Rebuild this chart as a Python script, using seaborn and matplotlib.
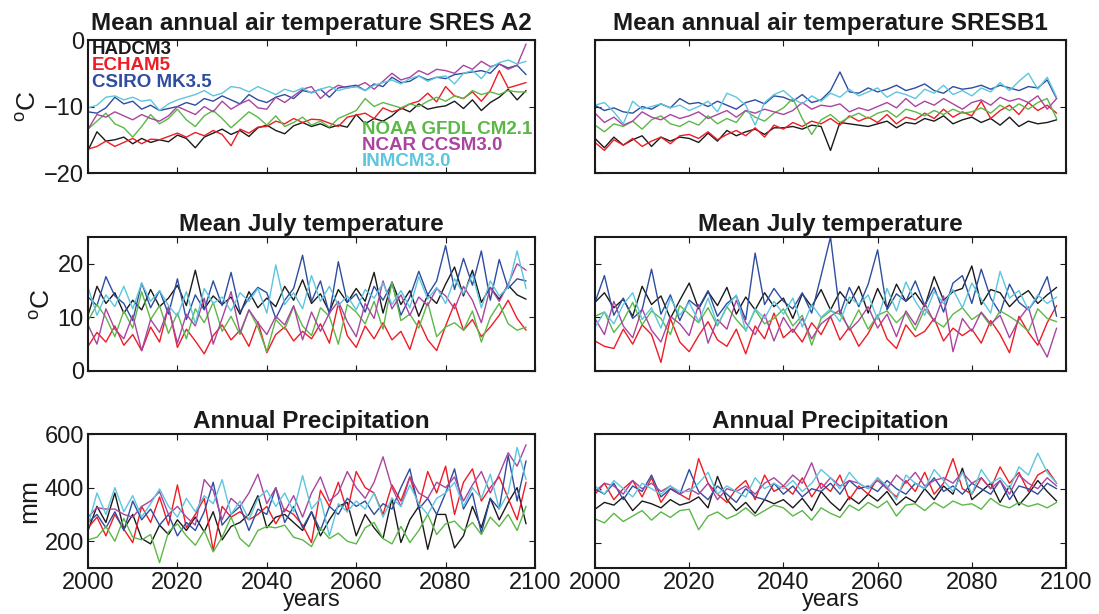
import matplotlib
matplotlib.use("Agg")
import pandas as pd
import matplotlib.pyplot as plt
import seaborn as sns

years = list(range(2000, 2100, 2))
models = ["HADCM3", "ECHAM5", "CSIRO MK3.5", "NOAA GFDL CM2.1", "NCAR CCSM3.0", "INMCM3.0"]
model_colors = ["#1a1a1a", "#ee1c24", "#2e4da0", "#5bb846", "#a9449f", "#5cc6de"]

# mean annual air temperature, SRES A2 (degC)
a2_annual_hadcm3 = [-16.6, -13.8, -15.2, -15.0, -14.6, -15.6, -14.8, -15.4, -15.0, -15.3,
                    -14.3, -14.8, -16.2, -14.6, -14.0, -13.4, -14.2, -13.6, -14.5, -13.2,
                    -12.8, -13.6, -14.1, -12.9, -12.4, -13.0, -12.6, -13.2, -12.8, -13.1,
                    -11.2, -12.6, -11.8, -12.2, -11.4, -10.2, -10.8, -9.6, -10.4, -10.1,
                    -9.9, -9.2, -10.3, -9.0, -10.6, -9.4, -8.6, -7.4, -9.0, -7.6]
a2_annual_echam5 = [-16.4, -16.0, -15.2, -16.0, -15.4, -14.8, -15.6, -14.9, -15.0, -14.5,
                    -14.0, -14.6, -13.9, -14.4, -13.6, -14.2, -15.9, -13.4, -14.0, -13.1,
                    -13.0, -12.2, -12.6, -11.8, -12.4, -11.9, -12.0, -12.5, -13.0, -11.6,
                    -11.3, -11.0, -11.8, -10.2, -10.8, -10.4, -9.6, -9.2, -8.0, -9.3,
                    -7.0, -8.4, -8.8, -7.8, -9.2, -7.6, -4.6, -7.2, -6.8, -6.4]
a2_annual_csiro = [-10.8, -11.0, -10.2, -8.6, -9.6, -9.2, -10.4, -9.8, -10.6, -10.3,
                   -10.0, -9.4, -9.8, -8.8, -9.2, -8.4, -9.0, -9.6, -8.2, -9.0,
                   -9.4, -8.6, -8.2, -8.8, -7.6, -7.9, -7.4, -8.6, -7.2, -7.0,
                   -6.8, -7.6, -6.6, -7.0, -5.6, -6.4, -6.2, -5.4, -6.0, -5.6,
                   -5.8, -5.2, -5.0, -4.8, -4.6, -5.0, -3.6, -4.2, -3.8, -5.2]
a2_annual_noaa = [-13.4, -12.2, -11.0, -12.6, -13.2, -14.6, -13.0, -11.2, -12.6, -11.8,
                  -10.4, -12.0, -13.0, -11.4, -10.6, -11.8, -13.2, -12.0, -10.8, -11.6,
                  -12.8, -11.4, -13.0, -12.4, -11.6, -12.8, -12.2, -13.1, -11.8, -11.2,
                  -10.6, -8.8, -10.0, -9.4, -9.8, -10.2, -9.6, -10.0, -9.2, -8.6,
                  -9.2, -8.4, -8.8, -7.6, -8.2, -7.8, -8.2, -7.6, -7.8, -7.8]
a2_annual_ncar = [-13.4, -11.2, -11.6, -10.8, -11.4, -12.0, -11.2, -11.8, -12.2, -11.4,
                  -10.0, -10.6, -11.2, -10.0, -10.8, -9.2, -10.4, -9.6, -9.0, -10.2,
                  -10.4, -8.6, -9.4, -8.4, -7.4, -7.0, -8.8, -7.6, -6.8, -7.2,
                  -7.0, -6.4, -7.4, -6.2, -5.0, -6.0, -5.6, -4.6, -5.2, -4.4,
                  -4.6, -5.0, -3.8, -4.4, -3.2, -4.0, -3.6, -4.4, -3.8, -0.6]
a2_annual_inmcm = [-10.2, -9.8, -8.6, -8.4, -9.0, -8.6, -9.2, -9.0, -10.6, -9.6,
                   -9.0, -8.6, -8.2, -7.6, -8.4, -8.0, -7.0, -7.2, -7.8, -7.0,
                   -7.6, -8.2, -7.4, -7.8, -7.2, -8.0, -7.4, -7.0, -7.6, -7.2,
                   -7.0, -7.6, -6.8, -6.4, -6.0, -6.6, -5.8, -5.4, -6.2, -5.6,
                   -5.4, -6.6, -5.0, -4.6, -5.8, -4.2, -3.4, -3.0, -3.6, -3.2]

# mean annual air temperature, SRES B1 (degC)
b1_annual_hadcm3 = [-14.8, -16.2, -14.6, -15.8, -15.0, -14.4, -16.0, -14.6, -15.2, -14.6,
                    -14.8, -15.4, -14.0, -15.2, -13.6, -14.4, -13.8, -13.4, -14.2, -13.2,
                    -13.2, -13.0, -13.4, -12.8, -13.0, -16.6, -12.4, -12.6, -12.8, -13.0,
                    -12.6, -12.2, -13.2, -12.4, -12.6, -11.8, -12.2, -11.4, -12.6, -12.0,
                    -11.6, -12.4, -11.8, -12.8, -11.6, -13.0, -12.2, -12.6, -12.4, -12.0]
b1_annual_echam5 = [-15.4, -16.6, -15.0, -15.8, -14.8, -16.0, -15.2, -14.6, -15.6, -14.4,
                    -14.2, -14.8, -13.8, -15.0, -14.2, -13.6, -14.4, -13.2, -14.6, -12.8,
                    -13.4, -12.4, -13.0, -12.2, -12.6, -11.8, -12.8, -11.4, -12.2, -11.6,
                    -12.4, -11.2, -12.6, -11.6, -12.0, -11.0, -11.8, -10.4, -11.6, -10.8,
                    -11.4, -9.2, -11.8, -10.6, -9.8, -11.2, -9.4, -10.6, -9.8, -11.0]
b1_annual_csiro = [-9.8, -10.6, -10.2, -10.8, -11.0, -10.0, -10.4, -9.6, -10.2, -8.8,
                   -9.6, -9.4, -10.0, -9.2, -9.8, -10.4, -9.4, -9.0, -9.6, -8.4,
                   -8.6, -9.2, -8.2, -9.4, -9.0, -7.6, -4.8, -7.8, -8.0, -7.2,
                   -7.8, -7.4, -6.8, -7.6, -7.2, -6.6, -7.6, -8.0, -7.0, -7.4,
                   -7.2, -6.8, -7.4, -6.8, -7.2, -7.6, -7.0, -7.2, -6.0, -8.8]
b1_annual_noaa = [-12.8, -13.8, -12.6, -13.0, -12.2, -13.4, -12.0, -11.4, -12.6, -13.0,
                  -12.2, -12.8, -11.4, -12.6, -11.8, -12.4, -10.6, -11.6, -12.2, -11.0,
                  -10.2, -8.8, -11.8, -14.2, -12.0, -11.2, -12.4, -11.6, -11.0, -11.8,
                  -11.0, -10.6, -11.6, -10.4, -10.8, -11.4, -10.6, -11.2, -10.4, -11.0,
                  -10.8, -10.2, -11.0, -9.8, -10.6, -9.6, -10.4, -9.4, -8.8, -11.8]
b1_annual_ncar = [-11.0, -12.4, -11.6, -12.8, -12.2, -10.8, -11.6, -12.0, -11.2, -11.8,
                  -11.4, -10.8, -11.8, -11.2, -10.6, -11.6, -10.6, -11.0, -10.4, -10.8,
                  -11.2, -10.6, -9.4, -10.4, -9.8, -10.0, -9.6, -10.8, -10.2, -10.6,
                  -10.0, -9.4, -10.2, -8.8, -10.0, -9.2, -9.8, -8.8, -9.6, -10.4,
                  -9.4, -9.0, -9.8, -8.6, -9.2, -8.8, -9.4, -8.4, -10.4, -8.8]
b1_annual_inmcm = [-9.8, -9.4, -10.8, -12.6, -9.2, -10.4, -10.0, -9.6, -10.2, -9.8,
                   -10.6, -10.0, -9.2, -10.8, -8.0, -8.6, -9.8, -12.8, -9.4, -8.2,
                   -7.6, -8.8, -9.6, -8.4, -9.2, -8.0, -8.6, -7.4, -8.4, -7.8,
                   -7.2, -8.6, -7.8, -8.2, -8.8, -7.4, -8.0, -6.8, -8.2, -7.6,
                   -8.4, -7.2, -7.8, -6.4, -7.6, -6.2, -5.0, -7.4, -5.6, -8.6]

# mean July temperature, SRES A2 (degC)
a2_july_hadcm3 = [10.4, 15.8, 12.6, 14.6, 10.8, 13.2, 11.4, 15.2, 12.0, 13.6,
                  16.0, 12.2, 18.8, 11.6, 14.0, 12.4, 13.8, 10.6, 14.8, 11.8,
                  13.6, 12.0, 15.8, 13.2, 17.0, 12.6, 14.4, 11.0, 15.2, 12.8,
                  15.4, 13.0, 18.4, 10.8, 16.6, 12.4, 15.0, 10.2, 14.2, 12.6,
                  16.2, 19.4, 14.0, 18.8, 12.8, 15.6, 13.4, 16.0, 14.2, 13.4]
a2_july_echam5 = [4.6, 7.2, 5.4, 8.4, 4.8, 6.8, 3.8, 8.2, 5.4, 12.0,
                  4.4, 7.8, 5.6, 3.2, 6.6, 8.6, 5.8, 7.6, 4.6, 9.2,
                  3.4, 6.8, 8.2, 5.6, 7.4, 6.0, 8.8, 5.2, 12.6, 6.6,
                  4.4, 8.4, 6.0, 9.0, 5.8, 7.4, 4.0, 9.4, 5.8, 3.8,
                  8.4, 12.6, 7.6, 9.6, 6.4, 8.2, 10.4, 13.2, 9.8, 7.6]
a2_july_csiro = [13.8, 12.2, 17.6, 14.0, 12.6, 9.4, 16.4, 11.8, 15.0, 10.6,
                 17.2, 9.6, 14.2, 11.4, 16.8, 12.2, 18.4, 11.0, 13.6, 15.6,
                 14.6, 9.8, 13.2, 15.4, 21.6, 13.0, 16.8, 10.6, 20.4, 12.8,
                 14.4, 11.0, 15.8, 13.2, 16.4, 10.4, 13.8, 18.6, 14.2, 16.8,
                 23.4, 15.2, 21.0, 16.0, 22.4, 13.2, 20.8, 15.4, 17.2, 16.8]
a2_july_noaa = [9.4, 12.4, 10.0, 6.4, 11.2, 8.0, 14.8, 9.6, 12.2, 7.0,
                10.8, 6.0, 11.6, 9.0, 12.8, 7.4, 10.2, 6.8, 11.4, 8.2,
                3.6, 9.6, 7.8, 12.0, 8.4, 6.6, 11.8, 10.2, 5.0, 12.4,
                11.0, 8.8, 13.0, 7.8, 16.6, 9.4, 10.6, 8.0, 12.8, 6.4,
                8.2, 9.0, 7.6, 11.2, 5.4, 10.0, 12.6, 8.8, 7.6, 8.2]
a2_july_ncar = [8.6, 5.0, 11.6, 7.8, 6.0, 10.4, 3.8, 9.6, 7.2, 11.8,
                5.2, 10.6, 8.4, 13.6, 5.0, 9.8, 14.8, 7.2, 11.4, 9.0,
                6.8, 10.2, 8.6, 12.2, 5.8, 11.0, 7.4, 10.8, 13.0, 9.2,
                6.4, 12.6, 9.8, 16.8, 11.6, 14.2, 10.4, 13.8, 12.2, 15.4,
                14.0, 11.6, 15.8, 13.2, 9.0, 15.6, 13.0, 16.2, 20.0, 18.8]
a2_july_inmcm = [15.6, 10.4, 14.2, 12.0, 15.8, 11.6, 16.4, 13.0, 15.0, 12.2,
                 10.2, 14.8, 8.8, 15.4, 12.6, 13.8, 11.2, 14.6, 13.0, 15.4,
                 10.8, 19.8, 12.4, 14.6, 11.6, 17.8, 13.0, 15.8, 12.2, 14.0,
                 11.4, 15.2, 13.6, 16.4, 12.4, 15.0, 11.8, 17.6, 13.4, 15.6,
                 12.6, 17.2, 14.4, 18.0, 11.8, 16.8, 14.0, 15.6, 22.4, 15.4]

# mean July temperature, SRES B1 (degC)
b1_july_hadcm3 = [12.8, 14.6, 11.8, 13.4, 10.2, 15.8, 12.4, 14.0, 9.8, 13.2,
                  16.4, 11.6, 14.8, 12.2, 15.6, 10.6, 13.8, 11.4, 14.6, 12.0,
                  13.6, 9.8, 14.4, 12.0, 15.2, 11.4, 14.8, 12.6, 15.8, 10.8,
                  15.4, 11.8, 16.2, 13.0, 14.6, 12.0, 17.6, 13.2, 14.8, 15.4,
                  19.6, 12.4, 15.2, 14.6, 12.0, 13.8, 15.0, 12.6, 14.2, 15.6]
b1_july_echam5 = [5.6, 4.6, 4.2, 7.8, 5.0, 8.6, 6.8, 1.6, 9.8, 5.4,
                  3.6, 6.6, 9.2, 5.8, 4.6, 7.8, 3.2, 8.4, 6.0, 10.8,
                  6.2, 7.8, 5.4, 9.0, 6.8, 10.2, 5.8, 8.2, 4.6, 7.0,
                  10.4, 6.0, 4.2, 8.6, 6.4, 7.4, 9.8, 5.6, 8.0, 6.6,
                  7.8, 5.2, 9.4, 6.8, 3.4, 10.2, 7.2, 4.8, 9.0, 12.2]
b1_july_csiro = [12.8, 17.8, 10.4, 13.6, 9.8, 11.4, 19.0, 10.6, 14.2, 9.4,
                 13.2, 11.8, 15.0, 10.2, 12.6, 14.0, 9.6, 22.0, 12.4, 15.4,
                 13.0, 11.6, 14.6, 10.8, 17.8, 25.0, 10.6, 15.6, 12.0, 16.2,
                 22.6, 11.4, 14.4, 13.0, 16.8, 12.2, 15.6, 11.0, 16.4, 17.8,
                 12.6, 19.0, 13.6, 10.8, 16.2, 12.8, 11.4, 13.8, 17.6, 10.2]
b1_july_noaa = [10.2, 11.0, 7.2, 9.4, 12.8, 8.6, 11.2, 9.8, 6.8, 12.2,
                10.6, 9.0, 11.8, 8.4, 12.0, 9.6, 7.6, 11.4, 8.8, 9.8,
                11.6, 8.4, 10.4, 4.8, 9.8, 11.2, 10.6, 8.0, 11.4, 7.8,
                10.4, 11.2, 9.0, 10.8, 7.6, 11.6, 9.4, 8.2, 10.6, 11.8,
                9.6, 10.8, 8.4, 11.2, 10.2, 9.0, 7.4, 11.6, 9.8, 9.2]
b1_july_ncar = [9.8, 6.8, 13.0, 8.4, 6.2, 11.6, 7.6, 5.4, 10.2, 8.8,
                6.6, 12.4, 5.2, 9.6, 7.8, 13.2, 9.0, 6.8, 10.6, 5.6,
                10.0, 7.2, 9.8, 6.0, 8.8, 10.2, 11.4, 7.6, 9.4, 12.0,
                8.0, 10.6, 6.4, 11.2, 8.6, 12.6, 9.2, 14.0, 3.6, 9.8,
                7.4, 11.0, 8.8, 10.4, 6.2, 9.6, 12.0, 5.8, 2.6, 8.0]
b1_july_inmcm = [8.2, 11.0, 8.8, 12.4, 14.6, 9.6, 11.8, 8.0, 13.6, 10.4,
                 12.8, 9.2, 13.6, 8.6, 12.0, 14.2, 7.4, 11.6, 9.8, 13.0,
                 10.6, 13.6, 8.2, 12.4, 10.0, 11.6, 9.2, 13.8, 12.4, 14.2,
                 9.6, 15.4, 11.2, 16.6, 13.0, 10.4, 14.8, 12.6, 15.2, 11.8,
                 16.4, 13.4, 10.8, 18.6, 13.6, 15.0, 11.4, 14.2, 12.6, 13.8]

# annual precipitation, SRES A2 (mm)
a2_precip_hadcm3 = [240, 330, 270, 380, 245, 300, 210, 190, 260, 225,
                    280, 240, 290, 235, 310, 205, 255, 270, 300, 370,
                    250, 290, 300, 270, 240, 310, 220, 280, 330, 345,
                    220, 300, 250, 210, 360, 195, 280, 330, 170, 300,
                    300, 175, 220, 330, 250, 360, 280, 345, 400, 265]
a2_precip_echam5 = [250, 290, 220, 300, 245, 195, 330, 270, 365, 260,
                    410, 250, 300, 360, 165, 330, 290, 310, 280, 300,
                    330, 265, 320, 300, 260, 195, 390, 330, 420, 310,
                    460, 400, 380, 300, 410, 350, 440, 330, 460, 380,
                    480, 300, 420, 470, 350, 400, 440, 360, 280, 420]
a2_precip_csiro = [270, 300, 250, 310, 240, 350, 280, 320, 260, 300,
                   220, 270, 240, 310, 420, 260, 300, 330, 240, 320,
                   300, 400, 270, 330, 250, 310, 240, 330, 300, 360,
                   330, 350, 300, 340, 320, 400, 470, 320, 360, 300,
                   380, 470, 320, 380, 230, 360, 320, 520, 350, 500]
a2_precip_noaa = [205, 215, 255, 200, 285, 215, 205, 225, 120, 235,
                  265, 220, 185, 240, 160, 215, 290, 210, 180, 240,
                  255, 250, 260, 215, 205, 180, 250, 210, 230, 200,
                  190, 250, 270, 210, 190, 255, 195, 240, 300, 225,
                  265, 275, 240, 270, 225, 290, 255, 300, 240, 330]
a2_precip_ncar = [290, 325, 320, 320, 300, 290, 330, 350, 385, 300,
                  330, 290, 260, 430, 390, 280, 360, 330, 380, 450,
                  340, 400, 310, 370, 290, 380, 440, 350, 380, 460,
                  400, 360, 420, 515, 400, 330, 440, 380, 360, 420,
                  400, 440, 350, 410, 460, 380, 450, 530, 480, 560]
a2_precip_inmcm = [260, 380, 300, 400, 310, 370, 290, 340, 395, 330,
                   290, 360, 310, 370, 340, 430, 300, 350, 280, 360,
                   390, 330, 380, 310, 445, 320, 360, 220, 340, 310,
                   350, 320, 380, 290, 360, 330, 410, 340, 300, 360,
                   380, 420, 330, 400, 360, 450, 320, 380, 550, 430]

# annual precipitation, SRES B1 (mm)
b1_precip_hadcm3 = [325, 350, 340, 370, 320, 355, 345, 330, 360, 340,
                    350, 370, 330, 445, 360, 320, 350, 310, 360, 345,
                    360, 330, 365, 320, 390, 350, 320, 370, 345, 380,
                    355, 390, 340, 370, 350, 400, 360, 410, 380, 475,
                    360, 390, 420, 350, 410, 340, 380, 430, 390, 355]
b1_precip_echam5 = [380, 420, 360, 400, 430, 370, 440, 350, 400, 380,
                    360, 510, 420, 380, 350, 400, 430, 360, 450, 390,
                    410, 380, 440, 370, 420, 390, 450, 360, 410, 380,
                    440, 400, 370, 430, 390, 460, 380, 420, 510, 400,
                    380, 440, 400, 480, 420, 460, 390, 450, 470, 420]
b1_precip_csiro = [400, 380, 420, 360, 410, 390, 450, 370, 400, 380,
                   470, 390, 360, 410, 380, 350, 400, 370, 360, 420,
                   380, 410, 370, 400, 390, 420, 380, 430, 400, 410,
                   390, 430, 400, 380, 420, 400, 440, 390, 410, 380,
                   420, 400, 380, 430, 360, 410, 400, 380, 420, 400]
b1_precip_noaa = [290, 275, 310, 280, 300, 320, 285, 315, 295, 320,
                  325, 250, 300, 315, 290, 305, 330, 300, 320, 340,
                  330, 300, 320, 285, 330, 310, 295, 340, 320, 350,
                  330, 355, 300, 340, 345, 320, 350, 330, 355, 340,
                  345, 325, 365, 340, 330, 350, 335, 345, 330, 350]
b1_precip_ncar = [390, 420, 410, 380, 430, 400, 420, 390, 410, 380,
                  400, 380, 420, 360, 400, 390, 410, 380, 420, 440,
                  410, 450, 420, 495, 400, 440, 410, 430, 420, 400,
                  430, 400, 450, 420, 460, 410, 430, 440, 420, 460,
                  420, 440, 400, 430, 380, 450, 420, 400, 440, 410]
b1_precip_inmcm = [410, 380, 430, 400, 370, 420, 400, 380, 410, 390,
                   390, 420, 460, 380, 410, 390, 370, 440, 400, 420,
                   400, 430, 390, 420, 470, 440, 400, 460, 420, 400,
                   440, 410, 360, 450, 420, 400, 470, 430, 390, 460,
                   380, 470, 420, 440, 400, 480, 450, 530, 460, 420]

panels = [
    ("Mean annual air temperature SRES A2",
     [a2_annual_hadcm3, a2_annual_echam5, a2_annual_csiro, a2_annual_noaa, a2_annual_ncar, a2_annual_inmcm]),
    ("Mean annual air temperature SRESB1",
     [b1_annual_hadcm3, b1_annual_echam5, b1_annual_csiro, b1_annual_noaa, b1_annual_ncar, b1_annual_inmcm]),
    ("Mean July temperature",
     [a2_july_hadcm3, a2_july_echam5, a2_july_csiro, a2_july_noaa, a2_july_ncar, a2_july_inmcm]),
    ("Mean July temperature",
     [b1_july_hadcm3, b1_july_echam5, b1_july_csiro, b1_july_noaa, b1_july_ncar, b1_july_inmcm]),
    ("Annual Precipitation",
     [a2_precip_hadcm3, a2_precip_echam5, a2_precip_csiro, a2_precip_noaa, a2_precip_ncar, a2_precip_inmcm]),
    ("Annual Precipitation",
     [b1_precip_hadcm3, b1_precip_echam5, b1_precip_csiro, b1_precip_noaa, b1_precip_ncar, b1_precip_inmcm]),
]

ylims = [(-20, 0), (-20, 0), (0, 25), (0, 25), (100, 600), (110, 567)]
yticks = [[-20, -10, 0], [-20, -10, 0], [0, 10, 20], [0, 10, 20], [200, 400, 600], [200, 400, 600]]
ylabels = ["$^{o}$C", None, "$^{o}$C", None, "mm", None]


def to_frame(series):
    rows = []
    for model, vals in zip(models, series):
        for yr, v in zip(years, vals):
            rows.append((yr, v, model))
    return pd.DataFrame(rows, columns=["year", "value", "model"])


sns.set_theme(style="ticks")
plt.rcParams["font.family"] = ["Liberation Sans", "DejaVu Sans"]
plt.rcParams["mathtext.fontset"] = "custom"
plt.rcParams["mathtext.rm"] = "Liberation Sans"
plt.rcParams["mathtext.it"] = "Liberation Sans"

fig = plt.figure(figsize=(10.99, 6.14), dpi=100)

col_x = [(0.0801, 0.4067), (0.5414, 0.4286)]
row_y = [(0.7182, 0.2166), (0.3958, 0.2182), (0.0749, 0.2182)]

for i, (title, series) in enumerate(panels):
    row, col = divmod(i, 2)
    ax = fig.add_axes([col_x[col][0], row_y[row][0], col_x[col][1], row_y[row][1]])
    df = to_frame(series)
    sns.lineplot(data=df, x="year", y="value", hue="model", hue_order=models,
                 palette=model_colors, linewidth=1.0, legend=False, errorbar=None, ax=ax)
    ax.set_xlim(2000, 2100)
    ax.set_ylim(*ylims[i])
    ax.set_xticks([2000, 2020, 2040, 2060, 2080, 2100])
    ax.set_yticks(yticks[i])
    ax.tick_params(direction="in", top=True, right=True, length=4, width=0.8,
                   labelsize=17, colors="#1a1a1a", pad=3)
    for s in ax.spines.values():
        s.set_linewidth(1.5)
        s.set_color("#1a1a1a")
    ax.set_title(title, fontsize=17.5, fontweight="bold", color="#1a1a1a",
                 pad=7 if row == 0 else 4)
    if col == 1:
        ax.set_yticklabels([])
    if row < 2:
        ax.set_xticklabels([])
        ax.set_xlabel("")
    else:
        ax.set_xlabel("years", fontsize=17, color="#1a1a1a", labelpad=-4)
    if ylabels[i]:
        ax.set_ylabel(ylabels[i], fontsize=19, color="#1a1a1a", labelpad=2)
    else:
        ax.set_ylabel("")

    if i == 0:
        for k in range(3):
            ax.text(0.009, 0.93 - 0.125 * k, models[k], transform=ax.transAxes,
                    color=model_colors[k], fontsize=13.5, fontweight="bold", va="center")
        for k in range(3, 6):
            ax.text(0.613, 0.325 - 0.12 * (k - 3), models[k], transform=ax.transAxes,
                    color=model_colors[k], fontsize=13.5, fontweight="bold", va="center")

fig.savefig("out.png", dpi=100)
